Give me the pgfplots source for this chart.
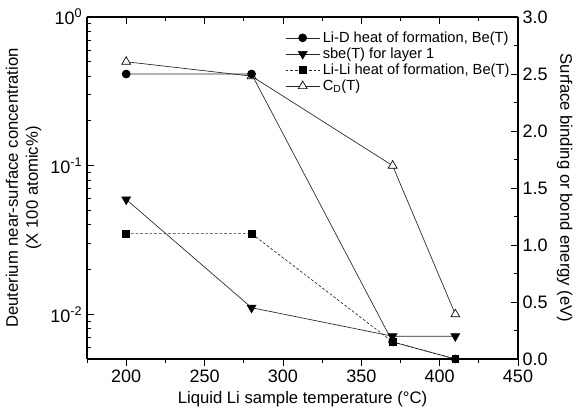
\documentclass[border=0pt]{standalone}
\usepackage{fontspec}
\setmainfont{Liberation Sans}
\usepackage{pgfplots}
\pgfplotsset{compat=1.18}
\begin{document}
\begin{tikzpicture}
\useasboundingbox (-65.25pt,-39.75pt) rectangle (368.25pt,269.25pt);
\pgfplotsset{every axis/.append style={scale only axis, width=323.25pt, height=256.5pt, xmin=175, xmax=450,
  font=\fontsize{12.5}{15}\selectfont, /pgf/number format/assume math mode=true,
  tick label style={font=\fontsize{13.5}{16}\selectfont},
  axis line style={line width=0.8pt}, tick style={black, line width=0.6pt},
  major tick length=5pt, minor tick length=3pt,
  label style={font=\fontsize{12.5}{15}\selectfont}}}
% bottom x axis (outside ticks)
\begin{axis}[axis x line*=bottom, axis y line=none, tick align=outside,
  xtick={200,250,...,450}, minor xtick={175,225,...,425}, ymin=0, ymax=1,
  xlabel={Liquid Li sample temperature (°C)}, xlabel style={yshift=1pt}]
\end{axis}
% left log axis + top x axis
\begin{axis}[ymode=log, ymin=0.005, ymax=1, axis y line*=left, axis x line*=top, tick align=inside,
  xtick={200,250,...,450}, xticklabels={}, minor xtick={175,225,...,425},
  ytick={0.01,0.1,1}, yticklabels={10\textsuperscript{-2},10\textsuperscript{-1},10\textsuperscript{0}},
  minor ytick={0.006,0.007,0.008,0.009,0.02,0.03,0.04,0.05,0.06,0.07,0.08,0.09,0.2,0.3,0.4,0.5,0.6,0.7,0.8,0.9},
  ylabel={Deuterium near-surface concentration\\(X 100 atomic\%)}, ylabel style={align=center},
  clip=false]
\addplot[black!85, line width=0.5pt, mark=triangle*, mark size=3.8pt, mark options={solid, draw=black, fill=white}] coordinates {(200,0.5) (280,0.4) (370,0.1) (410,0.01)};
\end{axis}
% right linear axis
\begin{axis}[ymin=0, ymax=3, axis y line*=right, axis x line=none, tick align=inside,
  xtick=\empty, ytick={0,0.5,...,3}, minor ytick={0.25,0.75,...,2.75},
  yticklabel style={/pgf/number format/.cd, fixed, fixed zerofill, precision=1},
  ylabel={Surface binding or bond energy (eV)}, ylabel style={rotate=180},
  clip=false,
  legend style={at={(rel axis cs:0.99,0.97)}, anchor=north east, draw=none, fill=none,
    font=\fontsize{11}{12}\selectfont, row sep=-1.4pt, inner sep=1pt},
  legend cell align=left,
  legend image code/.code={\draw[mark repeat=2, mark phase=2] plot coordinates {(0cm,0cm) (0.45cm,0cm) (0.9cm,0cm)};}]
\addplot[black!85, line width=0.5pt, dash pattern=on 2pt off 1.5pt, mark=square*, mark size=2.6pt, mark options={solid, black}, forget plot] coordinates {(200,1.1) (280,1.1) (370,0.15) (410,0.0)};
\addplot[black!85, line width=0.5pt, mark=*, mark size=3pt, mark options={black}, forget plot] coordinates {(200,2.5) (280,2.5) (370,0.15) (410,0.0)};
\addplot[black!85, line width=0.5pt, mark=triangle*, mark size=3.8pt, mark options={black, rotate=180}, forget plot] coordinates {(200,1.4) (280,0.45) (370,0.2) (410,0.2)};
\addlegendimage{black!85, line width=0.5pt, mark=*, mark size=3pt, mark options={black}}
\addlegendentry{Li-D heat of formation, Be(T)}
\addlegendimage{black!85, line width=0.5pt, mark=triangle*, mark size=3.8pt, mark options={black, rotate=180}}
\addlegendentry{sbe(T) for layer 1}
\addlegendimage{black!85, line width=0.5pt, dash pattern=on 2pt off 1.5pt, mark=square*, mark size=2.6pt, mark options={solid, black}}
\addlegendentry{Li-Li heat of formation, Be(T)}
\addlegendimage{black!85, line width=0.5pt, mark=triangle*, mark size=3.8pt, mark options={solid, draw=black, fill=white}}
\addlegendentry{C\textsubscript{D}(T)}
\end{axis}
\end{tikzpicture}
\end{document}
